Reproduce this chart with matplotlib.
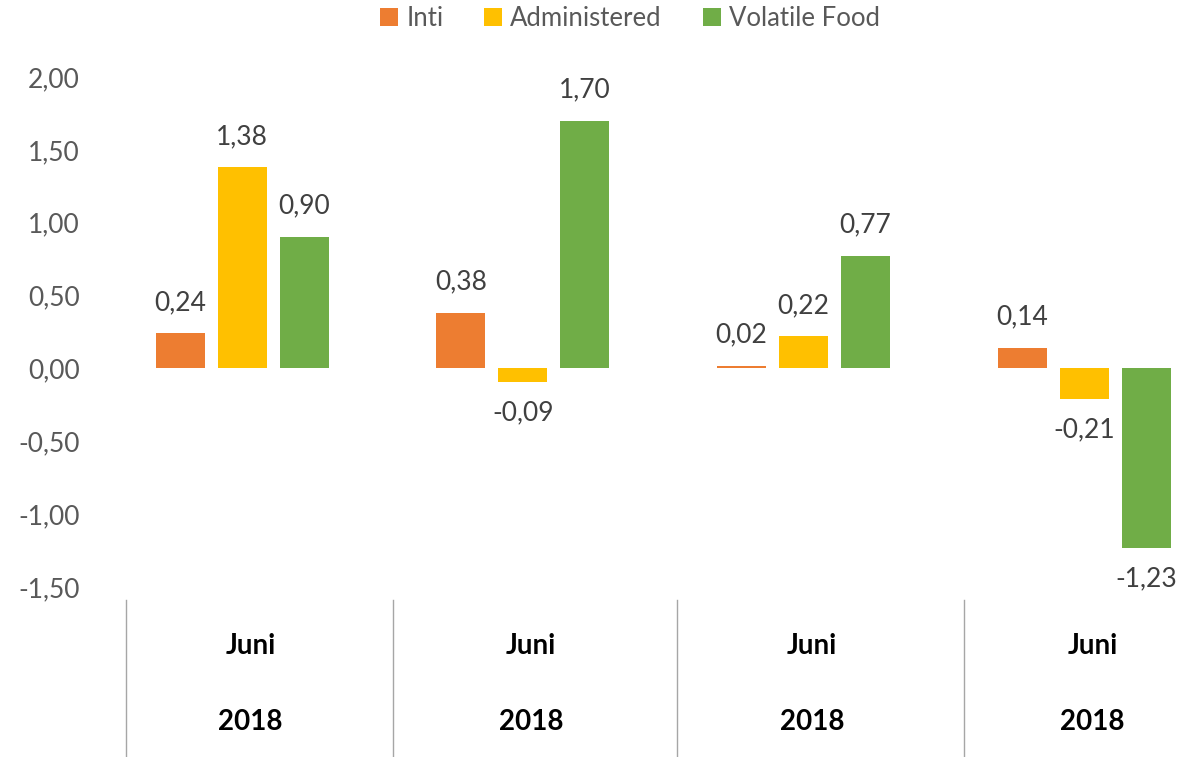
import matplotlib.pyplot as plt
import matplotlib.transforms as mtransforms
import numpy as np

plt.rcParams['font.family'] = ['Lato', 'DejaVu Sans']

months = ["Juni", "Juni", "Juni", "Juni"]
years = ["2018", "2018", "2018", "2018"]
series = ["Inti", "Administered", "Volatile Food"]
inti = [0.24, 0.38, 0.02, 0.14]
administered = [1.38, -0.09, 0.22, -0.21]
volatile_food = [0.90, 1.70, 0.77, -1.23]
colors = ["#ED7D31", "#FFC000", "#70AD47"]
yticks = [-1.5, -1.0, -0.5, 0.0, 0.5, 1.0, 1.5, 2.0]

W, H = 1177, 757
fig = plt.figure(figsize=(W / 100, H / 100), dpi=100)
ax = fig.add_axes([102 / W, 1 - 587 / H, (W - 102) / W, (587 - 77) / H])

x = np.arange(len(months))
width = 0.175
step = 0.221
grey = "#595959"

for i, (vals, col, name) in enumerate(zip([inti, administered, volatile_food], colors, series)):
    pos = x + (i - 1) * step
    ax.bar(pos, vals, width=width, color=col, label=name)
    for p, v in zip(pos, vals):
        txt = f"{v:.2f}".replace(".", ",")
        off = 31 if v >= 0 else -31
        ax.annotate(txt, (p, v), xytext=(0, off), textcoords="offset pixels",
                    ha="center", va="center", fontsize=19, color="#404040")

ax.set_xlim(-0.5, (W - 242) / 280.7)
ax.set_ylim(-1.5, 2.0)
ax.set_yticks(yticks)
ax.set_yticklabels([f"{t:.2f}".replace(".", ",") for t in yticks], fontsize=19, color=grey)
ax.tick_params(axis="y", length=0, pad=16)
ax.set_xticks([])
for s in ax.spines.values():
    s.set_visible(False)

# category separators and two-level labels below the plot
trans = mtransforms.blended_transform_factory(ax.transData, fig.transFigure)
for sx in [-0.413, 0.538, 1.55, 2.572]:
    ax.plot([sx, sx], [1 - 600 / H, 1 - 757 / H], color="#A6A6A6", lw=1,
            transform=trans, clip_on=False)
for xi, m, yr in zip(x + 0.03, months, years):
    ax.text(xi, 1 - 646 / H, m, transform=trans, ha="center", va="center",
            fontsize=20, fontweight="bold", color="black")
    ax.text(xi, 1 - 722 / H, yr, transform=trans, ha="center", va="center",
            fontsize=20, fontweight="bold", color="black")

fig.legend(loc="center", bbox_to_anchor=(630 / W, 1 - 18 / H), ncol=3, frameon=False,
           fontsize=18.5, handlelength=0.7, handleheight=0.7, handletextpad=0.3,
           columnspacing=1.6, labelcolor=grey)

fig.savefig("out.png", dpi=100)
